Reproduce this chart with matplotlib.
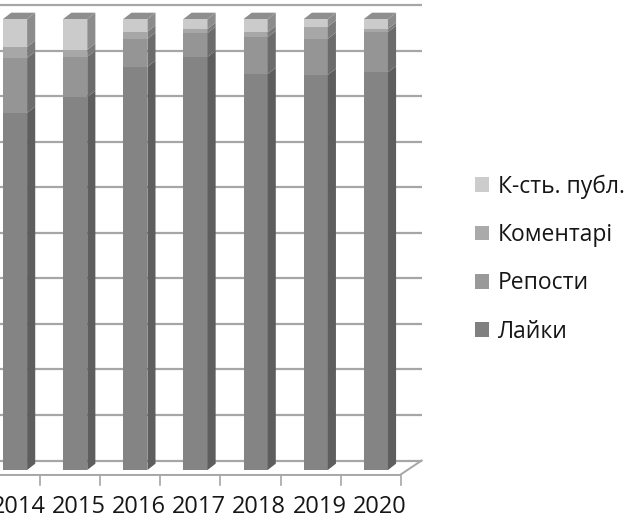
import matplotlib.pyplot as plt
from matplotlib.patches import Polygon, Patch

years = ['2014', '2015', '2016', '2017', '2018', '2019', '2020']
# shares in % (100% stacked), bottom to top
likes = [79.2, 82.7, 89.4, 91.6, 87.8, 87.6, 88.2]
reposts = [12.2, 8.9, 6.2, 5.3, 8.2, 8.0, 8.9]
comments = [2.4, 1.6, 1.6, 0.9, 1.1, 2.7, 0.7]
posts = [6.2, 6.8, 2.8, 2.2, 2.9, 1.7, 2.2]

series = [('Лайки', likes), ('Репости', reposts),
          ('Коментарі', comments), ('К-сть. публ.', posts)]
front = ['#848484', '#959595', '#a7a7a7', '#cbcbcb']
side = ['#5e5e5e', '#6c6c6c', '#7a7a7a', '#8c8c8c']
legend_col = ['#808080', '#999999', '#aaaaaa', '#cccccc']

plt.rcParams['font.family'] = ['Open Sans', 'DejaVu Sans']

fig = plt.figure(figsize=(6.27, 5.2), dpi=100)
# axes deliberately bigger than the picture on the left (reference is cropped)
ax = fig.add_axes([-15 / 627, 50 / 520, 421 / 627, 451 / 520])
ax.set_xlim(-0.5, 6.5)
ax.set_ylim(0, 100)
ax.axis('off')

w = 0.4          # bar width
dx, dy = 0.135, 1.4   # bar depth (data units)
wx, wy = 0.36, 2.1    # back wall offset

# back wall gridlines
for k in range(11):
    v = k * 10
    y = wy + v * 1.01
    ax.plot([-1.0, 6.5 + wx * 0.75], [y, y], color='#a6a6a6', lw=1.6,
            clip_on=False, zorder=1, solid_capstyle='butt')

# floor front edge + right diagonal
fl = -1.1
ax.plot([-1.0, 6.4, 6.4 + wx, ], [fl, fl, wy], color='#a6a6a6', lw=1.4,
        clip_on=False, zorder=1)
for k in range(7):
    tx = 0.415 + k
    ax.plot([tx, tx], [fl, fl - 2.2], color='#a6a6a6', lw=1.2,
            clip_on=False, zorder=1)

# bars with a fake 3D look
for i in range(len(years)):
    base = 0
    xl, xr = i - w / 2, i + w / 2
    for j, (name, vals) in enumerate(series):
        top = base + vals[i]
        ax.add_patch(Polygon([(xl, base), (xr, base), (xr, top), (xl, top)],
                             closed=True, facecolor=front[j], edgecolor='none',
                             zorder=3, clip_on=False))
        ax.add_patch(Polygon([(xr, base), (xr + dx, base + dy),
                              (xr + dx, top + dy), (xr, top)],
                             closed=True, facecolor=side[j], edgecolor='none',
                             zorder=3, clip_on=False))
        base = top
    ax.add_patch(Polygon([(xl, base), (xr, base), (xr + dx, base + dy),
                          (xl + dx, base + dy)],
                         closed=True, facecolor='#8e8e8e', edgecolor='none',
                         zorder=3, clip_on=False))
    ax.text(i + 0.06, -8.3, years[i], ha='center', va='center',
            fontsize=17, color='#161616', clip_on=False)

handles = [Patch(facecolor=legend_col[j], edgecolor='none', label=series[j][0])
           for j in range(3, -1, -1)]
fig.legend(handles=handles, loc='center left', bbox_to_anchor=(0.739, 0.502),
           frameon=False, fontsize=16.5, handlelength=0.62, handleheight=0.62,
           handletextpad=0.38, labelspacing=1.06, borderpad=0, labelcolor='#161616')

fig.savefig('out.png', dpi=100)
